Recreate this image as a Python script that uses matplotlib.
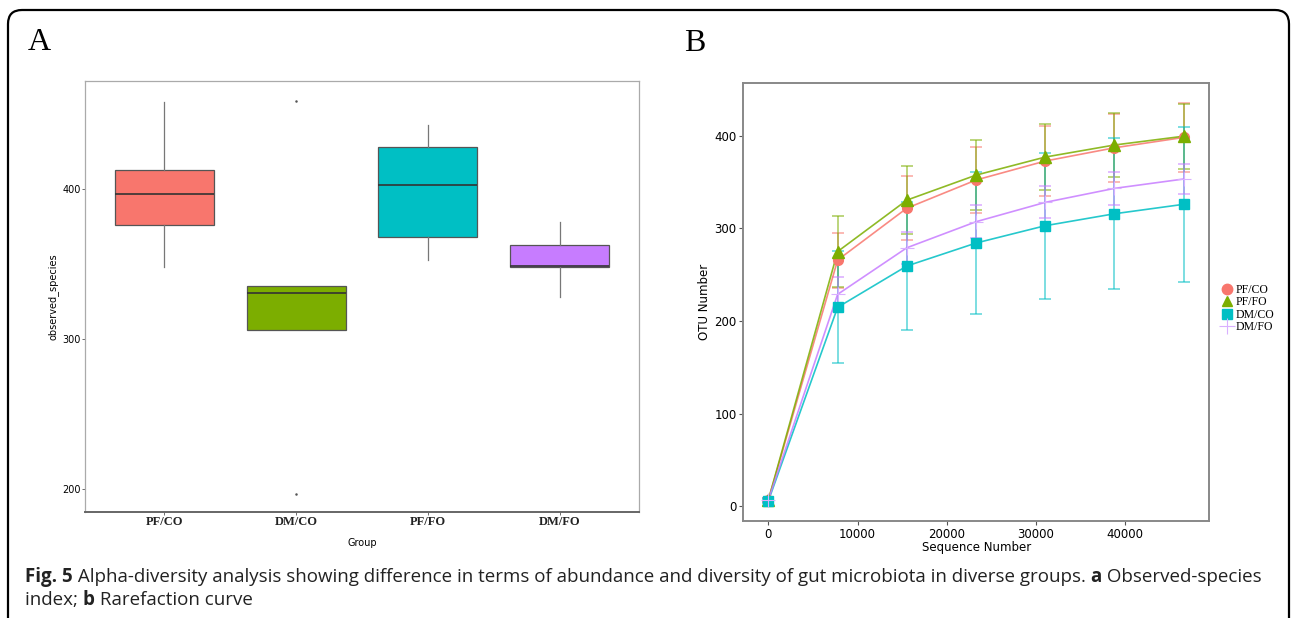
import matplotlib
matplotlib.use("Agg")
import matplotlib.pyplot as plt
from matplotlib.patches import FancyBboxPatch
from matplotlib.lines import Line2D
from matplotlib.transforms import IdentityTransform

# ---------------- data ----------------
groups = ["PF/CO", "DM/CO", "PF/FO", "DM/FO"]
box_colors = ["#F8766D", "#7CAE00", "#00BFC4", "#C77CFF"]
box_med = [397.0, 331.0, 403.0, 349.0]
box_q1 = [376.0, 306.0, 368.0, 348.0]
box_q3 = [413.0, 335.3, 428.0, 363.0]
box_wlo = [348.0, 306.0, 353.0, 328.0]
box_whi = [458.0, 335.3, 443.0, 378.0]
box_fliers = [[], [459.0, 197.0], [], []]

seq = [0, 7760, 15520, 23280, 31040, 38800, 46560]
series_names = ["PF/CO", "PF/FO", "DM/CO", "DM/FO"]
pfco = [7, 265.8, 321.8, 352.2, 372.7, 387.0, 398.2]
pfco_err = [2, 29.6, 34.5, 35.5, 37.5, 36.5, 37.5]
pffo = [7, 275.0, 330.5, 357.5, 377.0, 390.0, 399.5]
pffo_err = [2, 38.0, 37.0, 37.5, 36.0, 35.0, 35.0]
dmco = [6, 214.8, 259.4, 284.2, 302.9, 315.8, 326.0]
dmco_err = [2, 60.5, 69.0, 76.4, 78.8, 81.3, 83.5]
dmfo = [7, 228.8, 279.1, 307.2, 328.1, 343.2, 353.3]
dmfo_err = [2, 18.3, 17.0, 18.0, 17.3, 18.0, 16.5]

W, H = 1292, 618
fig = plt.figure(figsize=(W / 100, H / 100), dpi=100)

def ax_rect(l, t, r, b):
    return [l / W, (H - b) / H, (r - l) / W, (b - t) / H]

# ---------------- outer frame ----------------
frame = FancyBboxPatch((8, -40), 1281, H - 10 + 40, boxstyle="round,pad=0,rounding_size=14",
                       transform=IdentityTransform(), fill=False, edgecolor="black", lw=1.6)
fig.patches.append(frame)

# ---------------- panel A ----------------
axA = fig.add_axes(ax_rect(85, 81, 639, 512))
stats = []
for i in range(4):
    stats.append(dict(med=box_med[i], q1=box_q1[i], q3=box_q3[i],
                      whislo=box_wlo[i], whishi=box_whi[i], fliers=box_fliers[i], label=groups[i]))
bp = axA.bxp(stats, positions=[1, 2, 3, 4], widths=0.75, patch_artist=True, showcaps=False,
             boxprops=dict(edgecolor="#555555", linewidth=0.9),
             medianprops=dict(color="#333333", linewidth=1.2),
             whiskerprops=dict(color="#777777", linewidth=0.9),
             flierprops=dict(marker="o", markersize=0.8, markerfacecolor="#555555",
                             markeredgecolor="#555555", linestyle="none"))
for patch, c in zip(bp["boxes"], box_colors):
    patch.set_facecolor(c)
axA.set_xlim(0.4, 4.6)
axA.set_ylim(184.7, 472)
axA.set_yticks([200, 300, 400])
axA.tick_params(axis="y", labelsize=7, length=2, width=0.6, color="#555555", pad=1)
axA.tick_params(axis="x", length=2, width=0.6, color="#555555", pad=1)
for lab in axA.get_xticklabels():
    lab.set_fontfamily("Liberation Serif")
    lab.set_fontweight("bold")
    lab.set_fontsize(9)
    lab.set_color("#222222")
for s in ["top", "right", "left"]:
    axA.spines[s].set_color("#aaaaaa")
    axA.spines[s].set_linewidth(0.9)
axA.spines["bottom"].set_color("#666666")
axA.spines["bottom"].set_linewidth(1.4)
axA.set_xlabel("Group", fontsize=7, labelpad=7)
axA.set_ylabel("observed_species", fontsize=7, labelpad=3)

# ---------------- panel B ----------------
axB = fig.add_axes(ax_rect(743.4, 83.3, 1209, 520.7))
colors = ["#F8766D", "#7CAE00", "#00BFC4", "#C77CFF"]
markers = ["o", "^", "s", "+"]
msizes = [7, 8, 7, 10]
vals = [pfco, pffo, dmco, dmfo]
errs = [pfco_err, pffo_err, dmco_err, dmfo_err]
for name, v, e, c, m, ms in zip(series_names, vals, errs, colors, markers, msizes):
    axB.errorbar(seq, v, yerr=e, fmt="none", ecolor=c, elinewidth=1.2, capsize=4,
                 capthick=1.2, alpha=0.6, zorder=2)
    axB.plot(seq, v, color=c, lw=1.2, alpha=0.85, zorder=3)
    if m == "+":
        axB.plot(seq, v, linestyle="none", marker=m, markersize=ms, markeredgewidth=0.8,
                 color="#d9b0ff", zorder=4)
    else:
        axB.plot(seq, v, linestyle="none", marker=m, markersize=ms, color=c, zorder=4)
axB.set_xlim(-2803, 49395)
axB.set_ylim(-15.5, 456.6)
axB.set_xticks([0, 10000, 20000, 30000, 40000])
axB.set_yticks([0, 100, 200, 300, 400])
axB.tick_params(labelsize=8.5, length=3, width=0.8, color="#555555", pad=2)
for s in axB.spines.values():
    s.set_color("#888888")
    s.set_linewidth(1.4)
axB.set_xlabel("Sequence Number", fontsize=8.5, labelpad=0)
axB.set_ylabel("OTU Number", fontsize=8.5, labelpad=2)

handles = []
for c, m, ms in zip(colors, markers, msizes):
    if m == "+":
        handles.append(Line2D([], [], linestyle="none", marker=m, markersize=11,
                              markeredgewidth=0.8, color="#d9b0ff"))
    else:
        handles.append(Line2D([], [], linestyle="none", marker=m, markersize=7.5, color=c))
leg = fig.legend(handles, series_names, loc="upper left",
                 bbox_to_anchor=(1214 / W, (H - 276) / H), frameon=False,
                 prop=dict(family="Liberation Serif", size=8.5), handlelength=0.8,
                 handletextpad=0.35, labelspacing=0.02, borderpad=0.2)

# ---------------- panel letters ----------------
fig.text(28 / W, (H - 50) / H, "A", fontsize=23, family="Liberation Serif", va="baseline")
fig.text(684 / W, (H - 51) / H, "B", fontsize=23, family="Liberation Serif", va="baseline")

# ---------------- caption ----------------
renderer = fig.canvas.get_renderer()

def draw_segments(x0, y_base, segments, size):
    x = x0
    for txt, wt in segments:
        t = fig.text(x / W, (H - y_base) / H, txt, fontsize=size, family="Open Sans",
                     weight=wt, va="baseline", color="#222222")
        bb = t.get_window_extent(renderer)
        x = bb.x1
    return x

line1 = [("Fig. 5", "bold"),
         (" Alpha-diversity analysis showing difference in terms of abundance and diversity of gut microbiota in diverse groups. ", "normal"),
         ("a", "bold"), (" Observed-species", "normal")]
line2 = [("index; ", "normal"), ("b", "bold"), (" Rarefaction curve", "normal")]

probe_size = 11
tmp = []
for txt, wt in line1:
    t = fig.text(0, 0, txt, fontsize=probe_size, family="Open Sans", weight=wt)
    tmp.append(t)
total = sum(t.get_window_extent(renderer).width for t in tmp)
for t in tmp:
    t.remove()
size = probe_size * (1262 - 25) / total

draw_segments(25, 582, line1, size)
draw_segments(25, 605, line2, size)

fig.savefig("out.png", dpi=100)
